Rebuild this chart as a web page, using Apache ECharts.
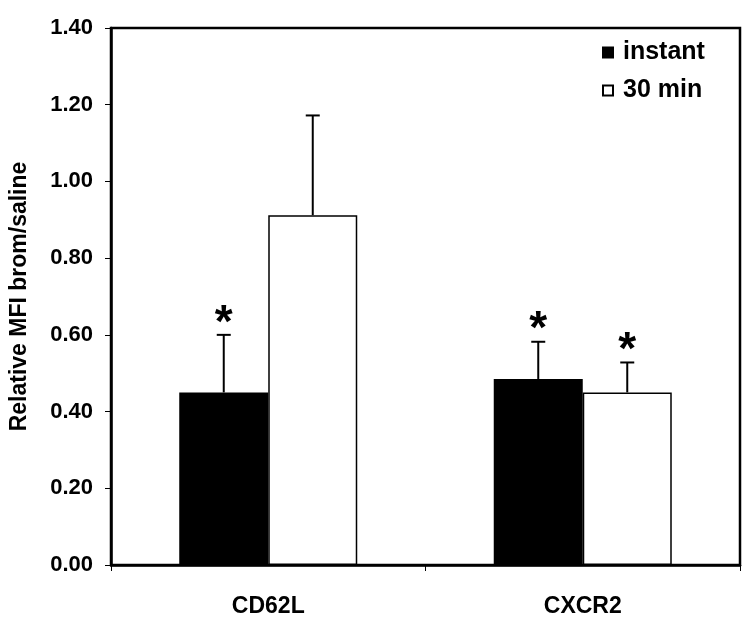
<!DOCTYPE html>
<html>
<head>
<meta charset="utf-8">
<script src="https://cdn.jsdelivr.net/npm/echarts@6/dist/echarts.min.js"></script>
<style>
html, body { margin: 0; padding: 0; background: #fff; }
#main { width: 750px; height: 621px; }
</style>
</head>
<body>
<div id="main"></div>
<script>
// data
var categories = ['CD62L', 'CXCR2'];
var instantVals = [0.45, 0.485];
var instantErr = [0.60, 0.582];      // top of error whisker
var min30Vals = [0.912, 0.45];
var min30Err = [1.172, 0.528];
var instantStar = [true, true];
var min30Star = [false, true];

var fontFam = '"Liberation Sans", Arial, sans-serif';

var chart = echarts.init(document.getElementById('main'));

// error whisker (upper only) + asterisk, side = -1 left bar, +1 right bar
function errRender(side, stars) {
    return function (params, api) {
        var idx = api.value(0);
        var top = api.coord([idx, api.value(1)]);
        var base = api.coord([idx, api.value(2)]);
        var barW = api.size([1, 0])[0] * 0.283;
        var x = base[0] + side * barW / 2;
        var cap = 7;
        var children = [
            { type: 'line', shape: { x1: x, y1: base[1], x2: x, y2: top[1] },
              style: { stroke: '#000', lineWidth: 2 } },
            { type: 'line', shape: { x1: x - cap, y1: top[1], x2: x + cap, y2: top[1] },
              style: { stroke: '#000', lineWidth: 2 } }
        ];
        if (stars[params.dataIndex]) {
            children.push({
                type: 'text',
                style: { x: x, y: top[1] + 12, text: '*', fill: '#000',
                         font: 'bold 46px ' + fontFam, align: 'center', verticalAlign: 'bottom' }
            });
        }
        return { type: 'group', children: children };
    };
}

var option = {
    animation: false,
    backgroundColor: '#fff',
    grid: { left: 111, right: 10, top: 28, bottom: 56, show: true,
            borderColor: '#000', borderWidth: 2.5, backgroundColor: 'transparent' },
    legend: {
        orient: 'vertical', left: 597, top: 35, itemWidth: 10, itemHeight: 10, itemGap: 13,
        icon: 'rect',
        textStyle: { fontFamily: fontFam, fontWeight: 'bold', fontSize: 25, color: '#000',
                     padding: [0, 0, 0, 5] },
        data: ['instant', '30 min']
    },
    xAxis: {
        type: 'category', data: categories,
        axisLine: { lineStyle: { color: '#000', width: 2.5 } },
        axisTick: { show: true, length: 6, lineStyle: { color: '#000', width: 1 } },
        axisLabel: { margin: 30, color: '#000', fontFamily: fontFam, fontWeight: 'bold', fontSize: 23 }
    },
    yAxis: {
        type: 'value', min: 0, max: 1.4, interval: 0.2,
        name: 'Relative MFI brom/saline', nameLocation: 'middle', nameGap: 80,
        nameTextStyle: { fontFamily: fontFam, fontWeight: 'bold', fontSize: 23, color: '#000' },
        axisLine: { show: true, lineStyle: { color: '#000', width: 2.5 } },
        axisTick: { show: true, length: 6, lineStyle: { color: '#000', width: 1 } },
        splitLine: { show: false },
        axisLabel: { margin: 18, color: '#000', fontFamily: fontFam, fontWeight: 'bold', fontSize: 22,
            formatter: function (v) { return v.toFixed(2); } }
    },
    series: [
        { name: 'instant', type: 'bar', data: instantVals, barWidth: '28.3%', barGap: '0%',
          itemStyle: { color: '#000', borderColor: '#000', borderWidth: 1.5 } },
        { name: '30 min', type: 'bar', data: min30Vals, barWidth: '28.3%', barGap: '0%',
          itemStyle: { color: '#fff', borderColor: '#000', borderWidth: 1.5 } },
        { type: 'custom', renderItem: errRender(-1, instantStar), z: 5,
          data: categories.map(function (c, i) { return [i, instantErr[i], instantVals[i]]; }) },
        { type: 'custom', renderItem: errRender(1, min30Star), z: 5,
          data: categories.map(function (c, i) { return [i, min30Err[i], min30Vals[i]]; }) }
    ]
};

chart.setOption(option);
</script>
</body>
</html>
